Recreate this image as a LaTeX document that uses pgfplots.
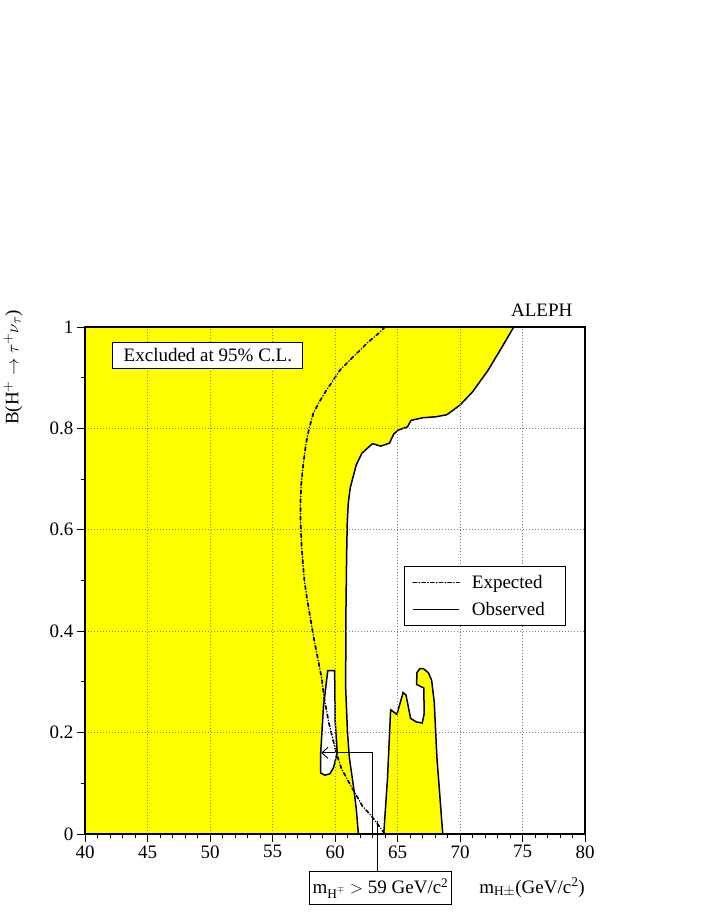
\documentclass[border=0pt]{standalone}
\usepackage{fontspec}
\setmainfont{Liberation Serif}
\usepackage{pgfplots}
\pgfplotsset{compat=1.18}
\usetikzlibrary{arrows.meta}
\definecolor{exclyellow}{RGB}{255,255,0}
\begin{document}
\begin{tikzpicture}[font=\fontsize{19}{22}\selectfont]
\useasboundingbox (0,0) rectangle (711pt,920pt);
\begin{axis}[
  at={(85pt,86pt)}, anchor=south west,
  scale only axis, width=500pt, height=507pt,
  xmin=40, xmax=80, ymin=0, ymax=1,
  xtick={40,45,...,80}, ytick={0,0.2,0.4,0.6,0.8,1},
  minor x tick num=4, minor y tick num=1,
  tick align=outside, xtick pos=left, ytick pos=left,
  major tick length=8pt, minor tick length=4pt,
  grid=major, major grid style={gray, line width=0.7pt, dash pattern=on 1pt off 2pt},
  axis line style={line width=1.2pt},
  tick style={black, line width=0.8pt},
  axis on top, clip=false,
  /pgf/number format/assume math mode=true,
  ticklabel style={font=\fontsize{19}{22}\selectfont},
  legend style={at={(0.6375,0.529)}, anchor=north west, draw=black, line width=1pt, fill=white,
    font=\fontsize{19}{22}\selectfont, inner xsep=8pt, inner ysep=6pt, row sep=6pt,
    nodes={inner sep=3pt}, column sep=9pt},
  legend cell align=left,
  legend image code/.code={\draw[#1] (0pt,0pt) -- (46pt,0pt);},
]
% excluded region (yellow)
\addplot[fill=exclyellow, draw=none, forget plot] coordinates {
(40,0) (40,1) (74.3,1.0) (73.35,0.96) (72.2,0.913) (71.0,0.872) (70.0,0.846) (68.95,0.827)
(68.1,0.823) (67.03,0.821) (66.1,0.816) (65.97,0.811) (65.8,0.803) (65.08,0.797) (64.7,0.789)
(64.36,0.771) (63.65,0.765) (63.0,0.77) (62.15,0.751) (61.7,0.728) (61.22,0.683) (61.06,0.652)
(60.98,0.613) (60.93,0.55) (60.88,0.45) (60.85,0.29) (61.0,0.2) (61.15,0.15) (61.5,0.09)
(61.7,0.05) (61.87,0)};
% second excluded island
\addplot[fill=exclyellow, draw=black, line width=1.5pt, forget plot] coordinates {
(63.9,0) (64.2,0.11) (64.45,0.245) (64.95,0.236) (65.45,0.279) (65.68,0.274) (66.05,0.228)
(66.5,0.221) (66.98,0.219) (67.14,0.238) (67.1,0.288) (66.53,0.295) (66.55,0.318) (66.78,0.326)
(67.08,0.326) (67.47,0.318) (67.73,0.303) (67.94,0.26) (68.15,0.152) (68.62,0)} -- cycle;
% allowed hole
\addplot[fill=white, draw=black, line width=1.5pt, forget plot] coordinates {
(59.42,0.322) (59.97,0.3225) (60.02,0.22) (60.18,0.16) (59.88,0.131) (59.6,0.119) (59.2,0.116)
(58.86,0.12) (58.85,0.158) (59.08,0.252)} -- cycle;
% expected
\addplot[black, line width=1.7pt, line cap=round, dash pattern=on 3.5pt off 2.6pt on 0pt off 2.6pt] coordinates {
(64.0,1.0) (63.47,0.987) (62.6,0.969) (61.87,0.951) (61.2,0.935) (60.4,0.915) (59.8,0.893)
(59.25,0.873) (58.67,0.849) (58.27,0.83) (57.93,0.8) (57.68,0.77) (57.47,0.731) (57.3,0.69)
(57.23,0.65) (57.25,0.613) (57.32,0.57) (57.4,0.544) (57.55,0.5) (57.75,0.466) (58.1,0.416)
(58.35,0.38) (58.65,0.343) (58.95,0.305) (59.12,0.27) (59.5,0.22) (60.1,0.16) (60.5,0.13)
(61.0,0.107) (61.5,0.085) (62.2,0.055) (63.0,0.033) (64.0,0.0)};
\addlegendentry{Expected}
% observed
\addplot[black, line width=1.5pt] coordinates {
(74.3,1.0) (73.35,0.96) (72.2,0.913) (71.0,0.872) (70.0,0.846) (68.95,0.827)
(68.1,0.823) (67.03,0.821) (66.1,0.816) (65.97,0.811) (65.8,0.803) (65.08,0.797) (64.7,0.789)
(64.36,0.771) (63.65,0.765) (63.0,0.77) (62.15,0.751) (61.7,0.728) (61.22,0.683) (61.06,0.652)
(60.98,0.613) (60.93,0.55) (60.88,0.45) (60.85,0.29) (61.0,0.2) (61.15,0.15) (61.5,0.09)
(61.7,0.05) (61.87,0)};
\addlegendentry{Observed\kern10pt}
% annotation arrow
\draw[line width=0.9pt, -{Straight Barb[length=6pt,width=11pt]}] (axis cs:63,0) |- (axis cs:58.9,0.16);
\draw[line width=0.9pt] (axis cs:63.38,0.025) -- (axis cs:63.38,-0.075);
\coordinate (exc) at (axis cs:49.83,0.9438);
\coordinate (lim) at (axis cs:63.64,-0.1072);
\coordinate (xl) at (axis cs:80,-0.1164);
\coordinate (al) at (axis cs:79.0,1.0203);
\coordinate (yl) at (axis cs:34.24,1.0335);
\end{axis}
\node[draw, fill=white, line width=1pt, minimum width=190pt, minimum height=25.6pt, inner sep=0pt] at (exc) {Excluded at 95\% C.L.};
\node[draw, fill=white, line width=1pt, minimum width=142pt, minimum height=33pt, inner sep=0pt] at (lim) {m\textsubscript{H$^{\mp}$} $>$ 59 GeV/c\textsuperscript{2}};
\node[anchor=base east, inner sep=0pt] at (xl) {m\textsubscript{H$\pm$}(GeV/c\textsuperscript{2})};
\node[anchor=base east, inner sep=0pt] at (al) {ALEPH};
\node[anchor=east, rotate=90, inner sep=0pt] at (yl) {B(H$^{+}\rightarrow\tau^{+}\nu_{\tau}$)};
\end{tikzpicture}
\end{document}
